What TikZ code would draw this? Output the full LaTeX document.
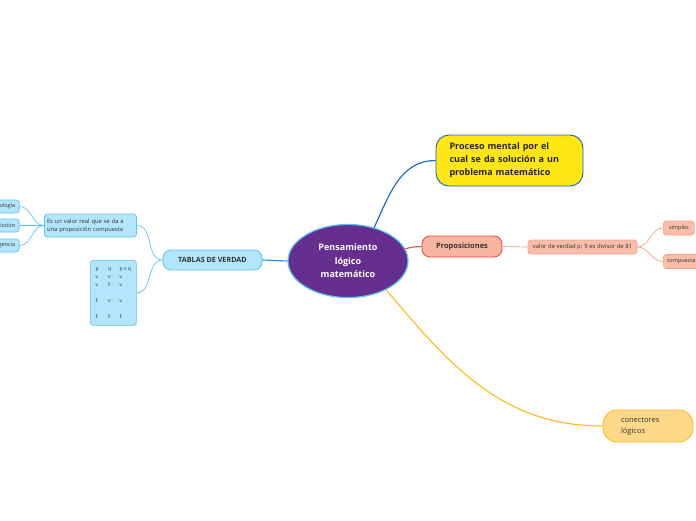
\documentclass[tikz,border=0pt]{standalone}
\usepackage{fontspec}
\setmainfont{Open Sans}
\usetikzlibrary{shapes.geometric}

\definecolor{centrofill}{HTML}{662E8F}
\definecolor{centroline}{HTML}{5BC0EB}
\definecolor{procfill}{HTML}{FFE614}
\definecolor{procline}{HTML}{1565C0}
\definecolor{propfill}{HTML}{F8B6A0}
\definecolor{propline}{HTML}{E8503A}
\definecolor{valfill}{HTML}{F9BDA9}
\definecolor{valline}{HTML}{F5A286}
\definecolor{conefill}{HTML}{FFD98A}
\definecolor{coneline}{HTML}{FFB81C}
\definecolor{tabfill}{HTML}{B3E5FC}
\definecolor{tabline}{HTML}{5EC4F5}
\definecolor{tabmain}{HTML}{1E88E5}
\definecolor{textgray}{HTML}{333333}

\begin{document}
\begin{tikzpicture}[x=1pt, y=1pt,
    topic/.style={draw, line width=0.9pt, rounded corners=8pt, inner sep=0pt, text=textgray,
        font=\fontsize{7.5}{9}\selectfont\bfseries},
    leaf/.style={draw, line width=0.7pt, rounded corners=3pt, inner sep=0pt, text=textgray,
        font=\fontsize{5}{6}\selectfont},
    tabnode/.style={leaf, fill=tabfill, draw=tabline},
    valnode/.style={leaf, fill=valfill, draw=valline},
    link/.style={line width=1.1pt},
    sublink/.style={line width=0.7pt}]

    \useasboundingbox (0,0) rectangle (696,-520);

    % central idea
    \node[ellipse, draw=centroline, line width=1.2pt, fill=centrofill, text=white,
        minimum width=120pt, minimum height=73pt, inner sep=0pt, align=center,
        font=\fontsize{9}{13.5}\selectfont\bfseries] (centro) at (348,-261)
        {Pensamiento\\l\'ogico\\ matem\'atico};

    % main topics
    \node[topic, fill=procfill, draw=procline, rounded corners=13pt,
        minimum height=51pt, text width=120pt, inner xsep=13.5pt, align=left,
        font=\fontsize{9}{13}\selectfont\bfseries, text=black!85] (proceso) at (509.5,-160.5)
        {Proceso mental por el\\cual se da soluci\'on a un\\problema matem\'atico};
    \node[topic, fill=propfill, draw=propline, minimum width=80pt, minimum height=21pt] (prop) at (462,-246.5)
        {Proposiciones};
    \node[topic, fill=conefill, draw=coneline, rounded corners=14pt, minimum height=32pt,
        text width=54pt, inner xsep=18pt, align=left, font=\fontsize{7.5}{11}\selectfont] (conect) at (648,-426)
        {conectores\\l\'ogicos};
    \node[topic, fill=tabfill, draw=tabline, minimum width=99pt, minimum height=20pt,
        font=\fontsize{7.2}{8}\selectfont\bfseries] (tablas) at (212.5,-260)
        {TABLAS DE VERDAD};

    % proposiciones branch
    \node[valnode, minimum width=109pt, minimum height=14pt, font=\fontsize{5.9}{6}\selectfont] (valor) at (582.5,-247)
        {valor de verdad p: 9 es divisor de 81};
    \node[valnode, anchor=west, minimum width=31pt, minimum height=14pt,
        font=\fontsize{5.5}{6}\selectfont] (simples) at (663,-228) {simples};
    \node[valnode, anchor=west, minimum height=14pt, inner xsep=3.5pt,
        font=\fontsize{5.5}{6}\selectfont] (compuesta) at (663,-261.5) {compuesta};

    % tablas de verdad branch
    \node[tabnode, minimum height=23pt, text width=87pt, inner xsep=2.5pt, align=left,
        font=\fontsize{5.8}{8}\selectfont] (esun) at (90.5,-225.5)
        {Es un valor real que se da a\\una proposici\'on compuesta};
    \node[tabnode, minimum width=46pt, minimum height=65pt, anchor=north west,
        inner xsep=5pt, inner ysep=4pt] (tverdad) at (90,-260)
        {\setlength{\tabcolsep}{0pt}\renewcommand{\arraystretch}{1.3}%
        \begin{tabular}[t]{@{}p{12.5pt}p{11.5pt}l@{}}
            p & q & p v q\\
            v & v & v\\
            v & F & v\\[8pt]
            F & v & v\\[8pt]
            F & F & F
        \end{tabular}};
    \node[tabnode, anchor=east, minimum height=13pt, inner xsep=4pt, font=\fontsize{5.5}{6}\selectfont] (tauto) at (19.5,-206.5) {Tautolog\'ia};
    \node[tabnode, anchor=east, minimum height=13pt, inner xsep=4pt, font=\fontsize{5.5}{6}\selectfont] (contra) at (19.5,-225.5) {Contradicci\'on};
    \node[tabnode, anchor=east, minimum height=13pt, inner xsep=4pt, font=\fontsize{5.5}{6}\selectfont] (conti) at (19.5,-245.5) {Contingencia};

    % connectors
    \draw[link, procline] (centro.52) to[out=65, in=180] (proceso.west);
    \draw[link, propline] (centro.12) to[out=15, in=180] (prop.west);
    \draw[link, coneline] (centro.-37) to[out=-50, in=180] (conect.west);
    \draw[link, tabmain] (centro.west) -- (tablas.east);

    \draw[sublink, valline] (prop.east) -- (valor.west);
    \draw[sublink, valline] (valor.east) to[out=0, in=180] (simples.west);
    \draw[sublink, valline] (valor.east) to[out=0, in=180] (compuesta.west);

    \draw[sublink, tabline] (tablas.west) to[out=180, in=0] (esun.east);
    \draw[sublink, tabline] (tablas.west) to[out=180, in=0] (tverdad.east);
    \draw[sublink, tabline] (esun.west) to[out=180, in=0] (tauto.east);
    \draw[sublink, tabline] (esun.west) to[out=180, in=0] (contra.east);
    \draw[sublink, tabline] (esun.west) to[out=180, in=0] (conti.east);
\end{tikzpicture}
\end{document}
